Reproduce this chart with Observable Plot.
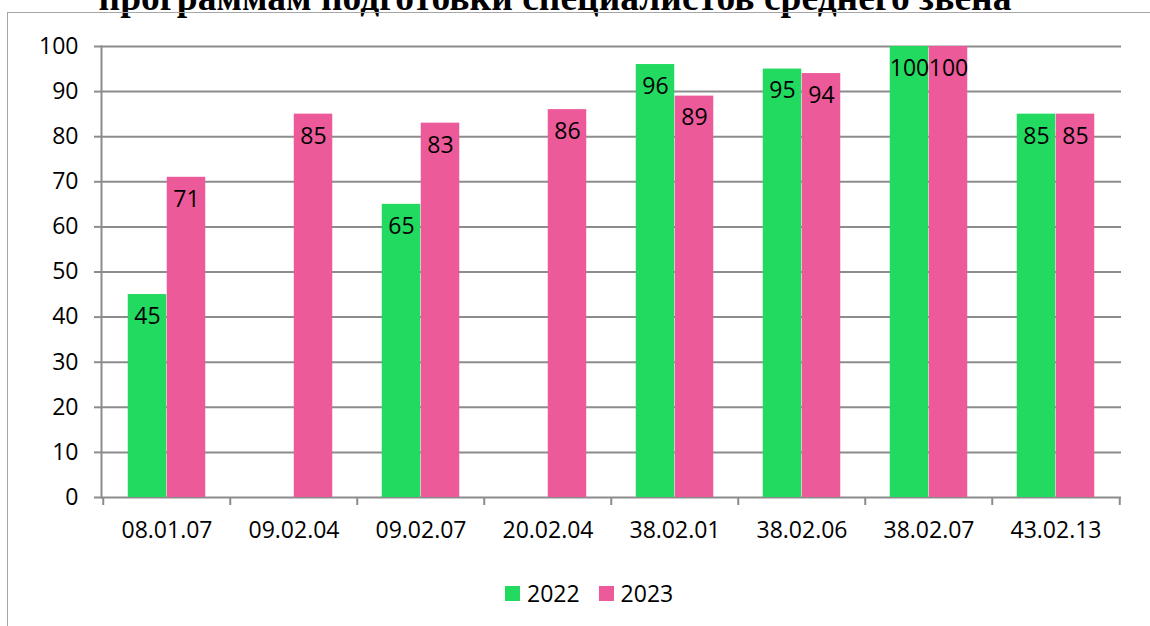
<!DOCTYPE html>
<html>
<head>
<meta charset="utf-8">
<script src="https://cdn.jsdelivr.net/npm/d3@7"></script>
<script src="https://cdn.jsdelivr.net/npm/@observablehq/plot@0.6"></script>
<style>
  html, body { margin: 0; padding: 0; background: #fff; }
  #wrap { position: relative; width: 1150px; height: 626px; overflow: hidden; background: #fff; font-family: "Open Sans", sans-serif; }
  #frame { position: absolute; left: 7px; top: 12px; width: 1200px; height: 700px; border-left: 1.5px solid #a6a6a6; border-top: 1.5px solid #a6a6a6; }
  #title { position: absolute; left: 0; width: 1110px; top: -21px; text-align: center; font-family: "Liberation Serif", serif; font-weight: bold; font-size: 37.5px; line-height: 37.5px; color: #000; white-space: nowrap; }
  #chart { position: absolute; left: 0; top: 0; }
  #legend { position: absolute; left: 505px; top: 577px; display: flex; align-items: center; font-size: 23px; color: #000; }
  .sw { display: inline-block; width: 15px; height: 15px; margin-right: 7px; }
  .item { display: flex; align-items: center; margin-right: 19px; }
</style>
</head>
<body>
<div id="wrap">
  <div id="title"></div>
  <div id="frame"></div>
  <div id="chart"></div>
  <div id="legend"></div>
</div>
<script>
const titleText = "программам подготовки специалистов среднего звена";
const categories = ["08.01.07","09.02.04","09.02.07","20.02.04","38.02.01","38.02.06","38.02.07","43.02.13"];
const v2022 = [45, null, 65, null, 96, 95, 100, 85];
const v2023 = [71, 85, 83, 86, 89, 94, 100, 85];
const seriesNames = ["2022", "2023"];
const seriesColors = ["#22da5f", "#ec5a9a"];
const yTicks = [0, 10, 20, 30, 40, 50, 60, 70, 80, 90, 100];

document.getElementById("title").textContent = titleText;

const W = 1150, H = 626;
const mL = 101, mR = 29, mT = 46, mB = 129;
const step = (W - mL - mR) / categories.length;
const barW = 39;
const outer = (step - 2 * barW) / 2;

const rows = (vals, s) => categories.map((c, i) => ({cat: c, value: vals[i], series: s})).filter(d => d.value != null);
const d22 = rows(v2022, seriesNames[0]);
const d23 = rows(v2023, seriesNames[1]);
const gray = "#8c8c8c";

const chart = Plot.plot({
  width: W, height: H,
  marginLeft: mL, marginRight: mR, marginTop: mT, marginBottom: mB,
  style: {fontFamily: "Open Sans", fontSize: "23px", color: "#000", background: "transparent"},
  x: {domain: categories, padding: 0, label: null},
  y: {domain: [0, 100], label: null},
  marks: [
    Plot.gridY(yTicks, {stroke: gray, strokeOpacity: 1, strokeWidth: 2}),
    Plot.barY(d22, {x: "cat", y: "value", fill: seriesColors[0], insetLeft: outer, insetRight: step - outer - barW}),
    Plot.barY(d23, {x: "cat", y: "value", fill: seriesColors[1], insetLeft: outer + barW, insetRight: outer}),
    Plot.text(d22, {x: "cat", y: "value", text: d => String(d.value), dx: -barW / 2, dy: 22, fontSize: 23, fill: "#000"}),
    Plot.text(d23, {x: "cat", y: "value", text: d => String(d.value), dx: barW / 2, dy: 22, fontSize: 23, fill: "#000"}),
    Plot.frame({anchor: "left", stroke: gray, strokeWidth: 2}),
    Plot.axisY({ticks: yTicks, tickSize: 7, tickPadding: 16, stroke: gray, strokeWidth: 2, fill: "#000", label: null, fontSize: 23}),
    Plot.axisX({ticks: categories, tickSize: 8, text: null, stroke: gray, strokeWidth: 2, dx: -step / 2, label: null}),
    Plot.axisX({ticks: categories.slice(-1), tickSize: 8, text: null, stroke: gray, strokeWidth: 2, dx: step / 2, label: null}),
    Plot.axisX({ticks: categories, tickSize: 0, tickPadding: 24, fill: "#000", label: null, fontSize: 23})
  ]
});
document.getElementById("chart").appendChild(chart);

const legend = document.getElementById("legend");
seriesNames.forEach((n, i) => {
  const it = document.createElement("div");
  it.className = "item";
  const sw = document.createElement("span");
  sw.className = "sw";
  sw.style.background = seriesColors[i];
  const t = document.createElement("span");
  t.textContent = n;
  it.appendChild(sw); it.appendChild(t);
  legend.appendChild(it);
});
</script>
</body>
</html>
